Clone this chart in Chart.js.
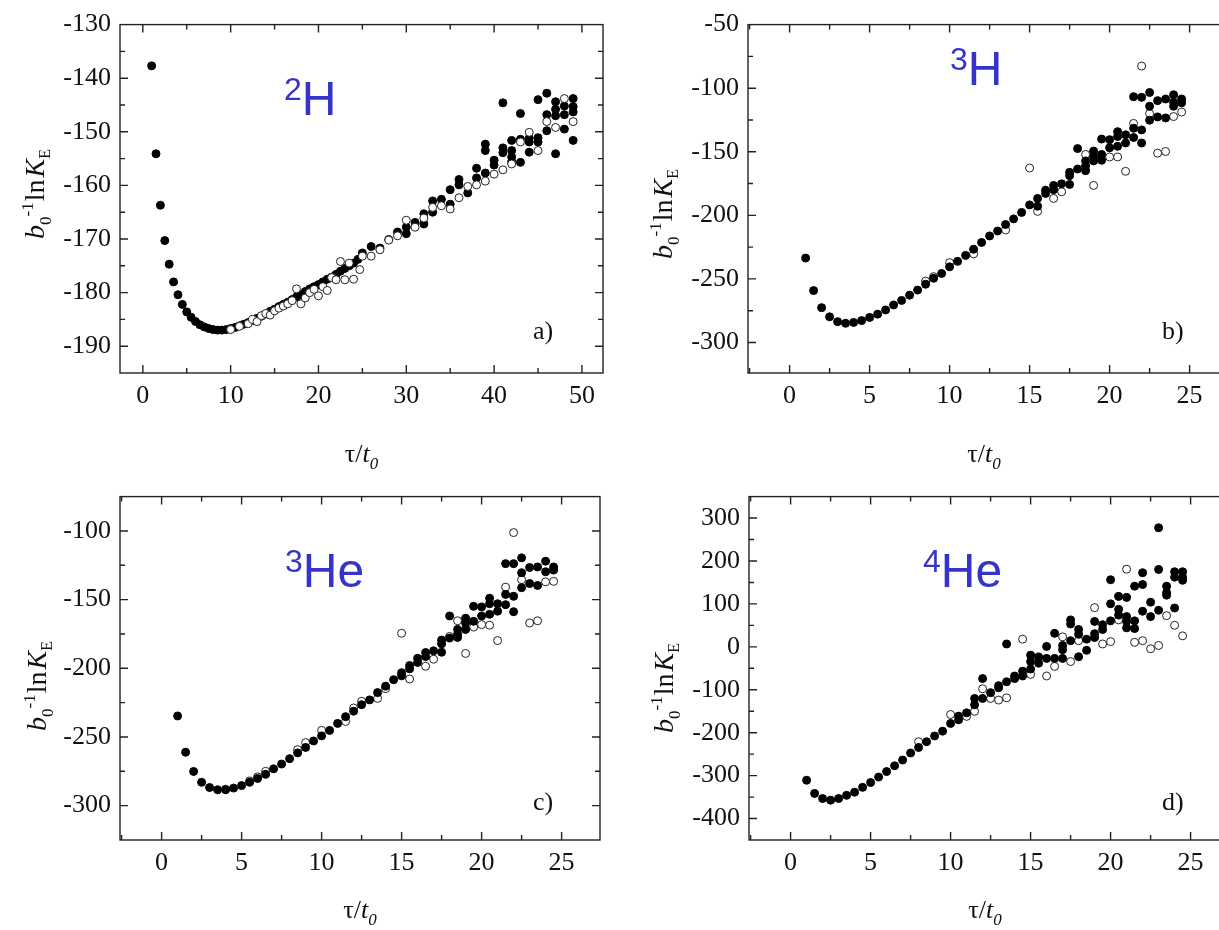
<!DOCTYPE html>
<html>
<head>
<meta charset="utf-8">
<script src="https://cdn.jsdelivr.net/npm/chart.js@4.4.1/dist/chart.umd.min.js"></script>
<style>
html, body { margin: 0; padding: 0; background: #fff; width: 1219px; height: 930px; overflow: hidden; }
canvas { position: absolute; }
</style>
</head>
<body>
<canvas id="pa" width="610" height="472" style="left:0;top:0"></canvas>
<canvas id="pb" width="625" height="472" style="left:610px;top:0"></canvas>
<canvas id="pc" width="610" height="458" style="left:0;top:472px"></canvas>
<canvas id="pd" width="625" height="458" style="left:610px;top:472px"></canvas>
<script>
// [tau/t0, b0^-1 ln K_E] pairs
var h2Full = [[1,-137.7],[1.5,-154.1],[2,-163.7],[2.5,-170.3],[3,-174.7],[3.5,-178.0],[4,-180.4],[4.5,-182.2],[5,-183.6],[5.5,-184.6],[6,-185.4],[6.5,-186.0],[7,-186.4],[7.5,-186.7],[8,-186.9],[8.5,-187.0],[9,-187.0],[9.5,-186.9],[10,-186.7],[10.5,-186.5],[11,-186.2],[11.5,-185.9],[12,-185.6],[12.5,-185.2],[13,-184.8],[13.5,-184.4],[14,-184.0],[14.5,-183.5],[15,-183.1],[15.5,-182.6],[16,-182.2],[16.5,-181.8],[17,-181.3],[17.5,-180.8],[18,-180.4],[18.5,-179.8],[19,-179.3],[19.5,-178.9],[20,-178.5],[20.5,-178.0],[21,-177.5],[21.5,-177.1],[22,-176.6],[22.5,-176.0],[23,-175.5],[23.5,-175.0],[24,-174.5],[24.5,-173.8],[25,-172.6],[26,-171.4],[27,-171.7],[28,-170.1],[29,-168.7],[30,-167.8],[30,-169.0],[31,-166.9],[32,-165.3],[32,-167.2],[33,-162.9],[33,-165.0],[34,-162.6],[35,-160.8],[35,-163.5],[36,-158.9],[36,-159.9],[37,-161.4],[38,-156.8],[38,-158.6],[39,-152.3],[39,-153.5],[39,-157.7],[40,-155.3],[40,-156.2],[41,-144.6],[41,-153.0],[41,-153.9],[42,-151.6],[42,-153.5],[42,-154.7],[42,-155.6],[43,-146.6],[43,-151.4],[43,-155.7],[44,-151.2],[44,-151.9],[44,-153.8],[45,-144.0],[45,-151.1],[45,-151.9],[46,-142.8],[46,-146.8],[46,-149.8],[47,-144.4],[47,-145.8],[47,-147.0],[47,-154.1],[48,-145.2],[48,-146.8],[48,-149.5],[49,-143.8],[49,-145.3],[49,-146.3],[49,-151.6]];
var h2Open = [[10,-186.9],[11,-186.3],[12,-185.8],[12.5,-185.0],[13,-185.4],[13.5,-184.3],[14,-183.9],[14.5,-184.2],[15,-183.4],[15.5,-182.9],[16,-182.5],[16.5,-182.1],[17,-181.5],[17.5,-179.3],[18,-182.1],[18.5,-181.0],[19,-180.0],[19.5,-179.4],[20,-180.6],[20.5,-178.9],[21,-179.6],[21.5,-177.2],[22,-177.6],[22.5,-174.2],[23,-177.6],[23.5,-174.5],[24,-177.5],[24.7,-175.7],[25,-173.2],[26,-173.2],[27,-172.0],[28,-170.2],[29,-169.4],[30,-166.5],[31,-167.8],[32,-166.1],[33,-164.1],[34,-163.8],[35,-164.4],[36,-162.3],[37,-160.2],[38,-159.9],[39,-159.2],[40,-157.9],[41,-157.1],[42,-156.0],[43,-151.9],[44,-150.1],[45,-153.5],[46,-148.1],[47,-149.2],[48,-143.8],[49,-148.1]];

var h3Full = [[1,-233.6],[1.5,-259.2],[2,-272.6],[2.5,-279.8],[3,-283.6],[3.5,-284.9],[4,-284.2],[4.5,-282.8],[5,-280.3],[5.5,-277.7],[6,-274.4],[6.5,-270.5],[7,-266.9],[7.5,-262.8],[8,-258.8],[8.5,-254.2],[9,-249.5],[9.5,-245.7],[10,-240.5],[10.5,-236.2],[11,-231.5],[11.5,-226.7],[12,-221.3],[12.5,-216.2],[13,-212.3],[13.5,-207.2],[14,-202.8],[14.5,-197.7],[15,-191.8],[15.5,-186.7],[15.5,-192.8],[16,-182.8],[16,-180.2],[16.5,-176.5],[16.5,-179.8],[17,-175.2],[17.5,-166.2],[17.5,-168.8],[17.5,-175.7],[18,-147.5],[18,-163.6],[18.5,-157.2],[18.5,-161.1],[18.5,-164.9],[19,-149.5],[19,-154.1],[19,-157.2],[19.5,-140.0],[19.5,-152.1],[19.5,-156.7],[20,-140.5],[20,-146.9],[20.5,-134.2],[20.5,-138.0],[20.5,-145.7],[21,-136.7],[21,-143.1],[21.5,-106.7],[21.5,-131.5],[21.5,-138.8],[22,-107.2],[22,-132.8],[22,-143.1],[22.5,-103.4],[22.5,-114.2],[22.5,-125.2],[23,-109.8],[23,-122.6],[23.5,-108.5],[23.5,-123.4],[24,-105.2],[24,-111.1],[24,-114.2],[24.5,-108.5],[24.5,-111.5]];
var h3Open = [[8.5,-251.7],[9,-248.2],[10,-237.2],[11.5,-230.3],[13.5,-211.5],[15,-162.8],[15.5,-196.9],[16.5,-186.7],[17,-181.5],[18.5,-152.1],[19,-176.5],[20,-154.1],[20.5,-154.1],[21,-165.4],[21.5,-127.7],[22,-82.6],[22.5,-120.0],[23,-151.1],[23.5,-149.8],[24,-122.3],[24.5,-118.8]];

var he3Full = [[1,-234.7],[1.5,-261.1],[2,-275.1],[2.5,-283.0],[3,-286.8],[3.5,-288.4],[4,-288.4],[4.5,-287.2],[5,-285.4],[5.5,-283.0],[6,-280.2],[6.5,-277.2],[7,-273.2],[7.5,-269.7],[8,-265.8],[8.5,-261.6],[9,-257.6],[9.5,-252.9],[10,-249.2],[10.5,-245.2],[11,-240.1],[11.5,-235.2],[12,-231.2],[12.5,-226.5],[13,-223.0],[13.5,-217.7],[14,-213.0],[14.5,-208.3],[15,-203.2],[15,-205.5],[15.5,-198.0],[15.5,-200.4],[16,-192.7],[16,-195.7],[16.5,-188.5],[16.5,-191.5],[17,-187.3],[17.5,-179.4],[17.5,-182.2],[17.5,-188.3],[18,-161.9],[18,-178.0],[18.5,-171.7],[18.5,-175.2],[18.5,-177.5],[19,-163.5],[19,-167.0],[19,-171.7],[19.5,-154.9],[19.5,-165.8],[20,-155.3],[20,-161.9],[20.5,-149.0],[20.5,-153.0],[20.5,-160.7],[21,-153.0],[21,-158.4],[21.5,-123.8],[21.5,-146.2],[21.5,-153.7],[22,-123.8],[22,-147.6],[22,-158.8],[22.5,-119.6],[22.5,-130.4],[22.5,-141.3],[23,-126.6],[23,-138.3],[23.5,-126.2],[23.5,-139.7],[24,-122.0],[24,-129.7],[24.5,-126.2],[24.5,-128.5]];
var he3Open = [[4,-288.0],[5.5,-282.0],[6,-279.0],[6.5,-275.0],[8.5,-259.2],[9,-254.1],[10,-245.2],[11.5,-238.7],[12,-228.9],[12.5,-224.0],[13.5,-221.9],[14,-214.8],[15,-174.5],[15.5,-207.8],[16.5,-198.5],[17,-193.4],[18,-176.8],[18.5,-165.4],[19,-189.2],[19.5,-170.0],[20,-168.2],[20.5,-168.6],[21,-179.8],[21.5,-140.9],[22,-101.2],[22.5,-135.5],[23,-167.0],[23.5,-165.4],[24,-137.1],[24.5,-136.7]];

var he4Full = [[1,-310.8],[1.5,-341.5],[2,-353.4],[2.5,-357.2],[3,-353.4],[3.5,-346.0],[4,-338.6],[4.5,-327.4],[5,-316.1],[5.5,-303.4],[6,-290.6],[6.5,-277.1],[7,-263.7],[7.5,-247.3],[8,-234.5],[8.5,-221.1],[9,-207.6],[9.5,-196.4],[10,-178.5],[10.5,-161.4],[10.5,-170.0],[11,-153.8],[11.5,-120.2],[11.5,-135.0],[12,-74.0],[12,-120.2],[12.5,-106.7],[13,-90.4],[13,-95.4],[13.5,6.7],[13.5,-81.4],[14,-74.0],[14,-68.0],[14.5,-56.7],[14.5,-67.9],[15,-19.3],[15,-34.3],[15,-51.5],[15.5,-24.7],[15.5,-38.1],[16,0.9],[16,-26.9],[16.5,31.4],[16.5,-26.9],[17,3.1],[17,-6.7],[17,-26.9],[17.5,62.8],[17.5,53.1],[17.5,14.3],[18,40.4],[18,29.1],[18,-23.1],[18.5,17.9],[18.5,-8.1],[19,59.2],[19,30.7],[19,21.7],[19.5,51.6],[19.5,40.4],[20,156.3],[20,100.2],[20,60.5],[20.5,117.5],[20.5,87.4],[20.5,74.0],[21,115.2],[21,70.4],[21,59.2],[21,44.2],[21.5,141.3],[21.5,60.5],[21.5,42.6],[22,172.6],[22,145.1],[22,83.0],[22.5,104.0],[22.5,70.4],[23,277.4],[23,180.3],[23,85.2],[23.5,141.3],[23.5,126.4],[23.5,120.4],[24,174.9],[24,162.3],[24,90.6],[24.5,174.9],[24.5,162.3],[24.5,155.0]];
var he4Open = [[8,-221.1],[10,-157.6],[11,-162.0],[11.5,-150.2],[12,-97.8],[12.5,-120.2],[13,-124.0],[13.5,-118.8],[14.5,17.9],[15,-64.1],[15.5,-23.1],[16,-67.9],[16.5,-45.5],[17,23.3],[17.5,-34.3],[18,14.3],[19,91.3],[19.5,6.7],[20,12.1],[20.5,62.8],[21,180.9],[21.5,10.5],[22,14.3],[22.5,-4.5],[23,3.1],[23.5,72.6],[24,50.2],[24.5,25.6]];

// tick labels
var xTicksA = [0, 10, 20, 30, 40, 50];
var xTicksBCD = [0, 5, 10, 15, 20, 25];
var yTicksA = [-190, -180, -170, -160, -150, -140, -130];
var yTicksB = [-300, -250, -200, -150, -100, -50];
var yTicksC = [-300, -250, -200, -150, -100];
var yTicksD = [-400, -300, -200, -100, 0, 100, 200, 300];

var SERIF = '"Liberation Serif", "Times New Roman", serif';
var SANS = '"Liberation Sans", Arial, sans-serif';
var BLUE = '#3434cc';

Chart.defaults.font.family = SERIF;
Chart.defaults.font.size = 26;
Chart.defaults.color = '#111';

function toXY(arr) {
    return arr.map(function(p) { return {x: p[0], y: p[1]}; });
}

function partsWidth(ctx, parts) {
    var w = 0;
    parts.forEach(function(p) {
        ctx.font = p.font;
        w += ctx.measureText(p.t).width + (p.gap || 0);
    });
    return w;
}

function drawParts(ctx, parts, x, y, color) {
    ctx.fillStyle = color;
    ctx.textAlign = 'left';
    ctx.textBaseline = 'alphabetic';
    var cx = x;
    parts.forEach(function(p) {
        ctx.font = p.font;
        ctx.fillText(p.t, cx, y + (p.dy || 0));
        cx += ctx.measureText(p.t).width + (p.gap || 0);
    });
}

// inward tick marks: majors from the scale, minors halfway
function marks(scale) {
    var vals = scale.ticks.map(function(t) { return t.value; });
    var out = [];
    if (vals.length < 2) return out;
    var step = vals[1] - vals[0];
    var n = 0;
    for (var v = vals[0] - step; v <= vals[vals.length - 1] + step + 1e-9; v += step / 2) {
        if (v > scale.min + 1e-6 && v < scale.max - 1e-6) out.push({v: v, major: n % 2 === 0});
        n++;
    }
    return out;
}

var yTitle = [
    {t: 'b', font: 'italic 28px ' + SERIF},
    {t: '0', font: '17px ' + SERIF, dy: 7},
    {t: '-1', font: '17px ' + SERIF, dy: -11, gap: 1},
    {t: 'ln', font: '28px ' + SERIF, gap: 2},
    {t: 'K', font: 'italic 28px ' + SERIF},
    {t: 'E', font: '16px ' + SERIF, dy: 6}
];
var xTitle = [
    {t: '\u03c4/', font: '26px ' + SERIF},
    {t: 't', font: 'italic 26px ' + SERIF},
    {t: '0', font: 'italic 17px ' + SERIF, dy: 7}
];

var panelPlugin = {
    id: 'panel',
    afterDraw: function(chart, args, o) {
        var ctx = chart.ctx;
        var a = chart.chartArea;
        var xs = chart.scales.x, ys = chart.scales.y;
        ctx.save();
        ctx.strokeStyle = '#222';
        ctx.lineWidth = 1.4;
        ctx.strokeRect(a.left, a.top, a.right - a.left, a.bottom - a.top);
        ctx.beginPath();
        marks(xs).forEach(function(m) {
            var px = xs.getPixelForValue(m.v), len = m.major ? 8 : 5;
            ctx.moveTo(px, a.bottom); ctx.lineTo(px, a.bottom - len);
            ctx.moveTo(px, a.top); ctx.lineTo(px, a.top + len);
        });
        marks(ys).forEach(function(m) {
            var py = ys.getPixelForValue(m.v), len = m.major ? 8 : 5;
            ctx.moveTo(a.left, py); ctx.lineTo(a.left + len, py);
            ctx.moveTo(a.right, py); ctx.lineTo(a.right - len, py);
        });
        ctx.stroke();

        // isotope label
        drawParts(ctx, [
            {t: o.mass, font: '32px ' + SANS, dy: -15},
            {t: o.el, font: '48px ' + SANS}
        ], o.isoX, o.isoY, BLUE);
        // panel tag
        drawParts(ctx, [{t: o.tag, font: '26px ' + SERIF}], o.tagX, o.tagY, '#111');
        // x title
        var w = partsWidth(ctx, xTitle);
        drawParts(ctx, xTitle, (a.left + a.right) / 2 - w / 2 + o.xTitleDx, o.xTitleY, '#111');
        // y title, rotated
        ctx.translate(o.yTitleX, o.yTitleY);
        ctx.rotate(-Math.PI / 2);
        w = partsWidth(ctx, yTitle);
        drawParts(ctx, yTitle, -w / 2, 0, '#111');
        ctx.restore();
    }
};

function fixedTicks(vals) {
    return function(s) {
        s.ticks = vals.map(function(v) { return {value: v}; });
    };
}

function makePanel(id, full, open, openOnTop, xr, xt, yr, yt, box, label) {
    var ctx = document.getElementById(id).getContext('2d');
    return new Chart(ctx, {
        type: 'scatter',
        plugins: [panelPlugin],
        data: {
            datasets: [{
                label: 'filled',
                data: toXY(full),
                backgroundColor: '#000',
                borderColor: '#000',
                borderWidth: 1,
                pointRadius: 4,
                order: openOnTop ? 2 : 1
            }, {
                label: 'open',
                data: toXY(open),
                backgroundColor: '#fff',
                borderColor: '#222',
                borderWidth: 1,
                pointRadius: 4,
                order: openOnTop ? 1 : 2
            }]
        },
        options: {
            responsive: false,
            animation: false,
            events: [],
            layout: {
                padding: {left: 0, top: box.top, right: box.right, bottom: 0}
            },
            plugins: {
                legend: {display: false},
                tooltip: {enabled: false},
                panel: label
            },
            scales: {
                x: {
                    type: 'linear',
                    min: xr[0], max: xr[1],
                    grid: {display: false, drawTicks: false},
                    border: {display: false},
                    ticks: {padding: 8, maxRotation: 0, autoSkip: false,
                        callback: function(v) { return String(v); }},
                    afterBuildTicks: fixedTicks(xt),
                    afterFit: function(s) { s.height = box.xh; }
                },
                y: {
                    type: 'linear',
                    min: yr[0], max: yr[1],
                    grid: {display: false, drawTicks: false},
                    border: {display: false},
                    ticks: {padding: 9, autoSkip: false,
                        callback: function(v) { return String(v); }},
                    afterBuildTicks: fixedTicks(yt),
                    afterFit: function(s) { s.width = box.yw; }
                }
            }
        }
    });
}

makePanel('pa', h2Full, h2Open, true, [-2.6, 52.4], xTicksA, [-195, -130], yTicksA,
    {top: 17, right: 7, xh: 99, yw: 120},
    {mass: '2', el: 'H', isoX: 284, isoY: 115, tag: 'a)', tagX: 533, tagY: 339,
     xTitleY: 462, xTitleDx: 0, yTitleX: 44, yTitleY: 194});
makePanel('pb', h3Full, h3Open, false, [-2.6, 27.4], xTicksBCD, [-324, -50], yTicksB,
    {top: 17, right: 7, xh: 99, yw: 138},
    {mass: '3', el: 'H', isoX: 340, isoY: 85, tag: 'b)', tagX: 552, tagY: 339,
     xTitleY: 462, xTitleDx: -4, yTitleX: 62, yTitleY: 214});
makePanel('pc', he3Full, he3Open, false, [-2.6, 27.4], xTicksBCD, [-325, -75], yTicksC,
    {top: 12, right: 10, xh: 90, yw: 120},
    {mass: '3', el: 'He', isoX: 285, isoY: 115, tag: 'c)', tagX: 533, tagY: 338,
     xTitleY: 446, xTitleDx: 0, yTitleX: 46, yTitleY: 214});
makePanel('pd', he4Full, he4Open, false, [-2.6, 27.4], xTicksBCD, [-450, 350], yTicksD,
    {top: 12, right: 6, xh: 90, yw: 139},
    {mass: '4', el: 'He', isoX: 313, isoY: 115, tag: 'd)', tagX: 552, tagY: 338,
     xTitleY: 446, xTitleDx: -4, yTitleX: 63, yTitleY: 216});
</script>
</body>
</html>
